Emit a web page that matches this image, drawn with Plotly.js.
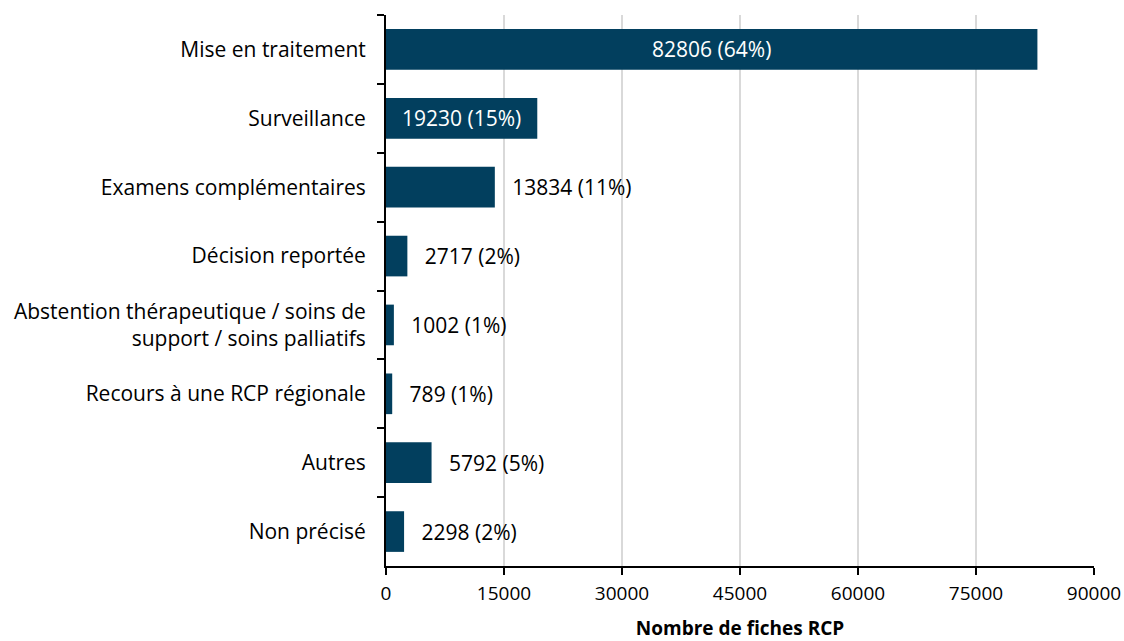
<!DOCTYPE html>
<html>
<head>
<meta charset="utf-8">
<script src="https://cdn.plot.ly/plotly-3.0.1.min.js"></script>
<style>html,body{margin:0;padding:0;background:#fff;}#chart{width:1124px;height:641px;}</style>
</head>
<body>
<div id="chart"></div>
<script>
const categories = [
  "Mise en traitement",
  "Surveillance",
  "Examens complémentaires",
  "Décision reportée",
  "Abstention thérapeutique / soins de<br>support / soins palliatifs",
  "Recours à une RCP régionale",
  "Autres",
  "Non précisé"
];
const counts = [82806, 19230, 13834, 2717, 1002, 789, 5792, 2298];
const percents = [64, 15, 11, 2, 1, 1, 5, 2];
const labelInside = [true, true, false, false, false, false, false, false];
const xTicks = [0, 15000, 30000, 45000, 60000, 75000, 90000];

const gap = "\u00a0\u00a0\u2009";
const texts = counts.map((c, i) => (labelInside[i] ? "" : gap) + c + " (" + percents[i] + "%)");

const FONT = "Open Sans, sans-serif";

const trace = {
  type: "bar",
  orientation: "h",
  x: counts,
  y: categories,
  marker: { color: "#023F5E" },
  text: texts,
  textposition: labelInside.map(v => v ? "inside" : "outside"),
  insidetextanchor: "middle",
  constraintext: "none",
  cliponaxis: false,
  insidetextfont: { family: FONT, size: 21, color: "#ffffff" },
  outsidetextfont: { family: FONT, size: 21, color: "#000000" },
  hoverinfo: "skip"
};

const layout = {
  width: 1124,
  height: 641,
  paper_bgcolor: "#ffffff",
  plot_bgcolor: "#ffffff",
  margin: { l: 386, r: 30, t: 15, b: 75, pad: 0 },
  showlegend: false,
  bargap: 0.41,
  font: { family: FONT, color: "#000000" },
  xaxis: {
    range: [0, 90000],
    tickvals: xTicks,
    ticktext: xTicks.map(String),
    showgrid: true,
    gridcolor: "#d9d9d9",
    gridwidth: 1.5,
    zeroline: false,
    showline: true,
    linecolor: "#000000",
    linewidth: 1.5,
    ticks: "outside",
    ticklen: 7,
    tickwidth: 1.5,
    tickcolor: "#000000",
    ticklabelstandoff: 3,
    tickfont: { family: FONT, size: 19, color: "#000000" },
    title: { text: "<b>Nombre de fiches RCP</b>", font: { family: FONT, size: 19, color: "#000000" }, standoff: 22 },
    automargin: false,
    fixedrange: true
  },
  yaxis: {
    autorange: "reversed",
    showgrid: false,
    zeroline: false,
    showline: true,
    linecolor: "#000000",
    linewidth: 2,
    ticks: "outside",
    tickson: "boundaries",
    ticklen: 7,
    tickwidth: 2,
    tickcolor: "#000000",
    ticklabelstandoff: 14,
    tickfont: { family: FONT, size: 21, color: "#000000" },
    automargin: false,
    fixedrange: true
  }
};

Plotly.newPlot("chart", [trace], layout, { displayModeBar: false, staticPlot: true });
</script>
</body>
</html>
